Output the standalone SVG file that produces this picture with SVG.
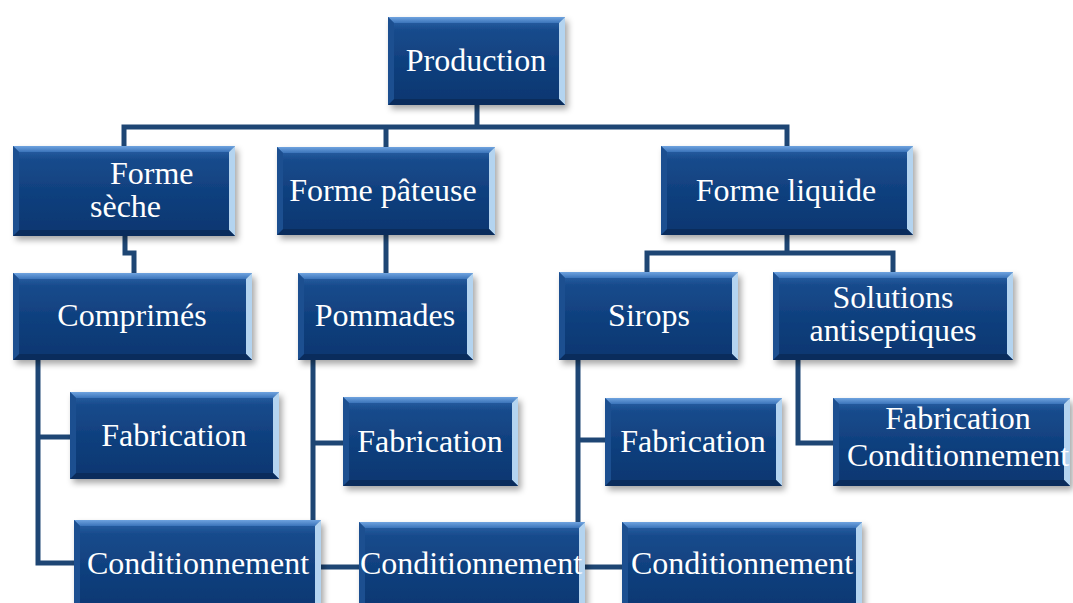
<svg xmlns="http://www.w3.org/2000/svg" width="1073" height="603" viewBox="0 0 1073 603">
  <defs>
    <linearGradient id="body" x1="0" y1="0" x2="0" y2="1">
      <stop offset="0" stop-color="#2d66ab"/>
      <stop offset="0.15" stop-color="#184b8c"/>
      <stop offset="0.55" stop-color="#0f3f7d"/>
      <stop offset="1" stop-color="#0b3670"/>
    </linearGradient>
    <linearGradient id="topBevel" x1="0" y1="0" x2="0" y2="1">
      <stop offset="0" stop-color="#6fa3df"/>
      <stop offset="1" stop-color="#3b74ba"/>
    </linearGradient>
    <filter id="shadow" x="-10%" y="-10%" width="125%" height="130%">
      <feDropShadow dx="3" dy="4" stdDeviation="3" flood-color="#000" flood-opacity="0.35"/>
    </filter>
  </defs>
  <style>
    .body { fill: url(#body); filter: url(#shadow); }
    .bt { fill: url(#topBevel); }
    .br { fill: #b4d4f0; }
    .bb { fill: #0a2c5c; }
    .bl { fill: #1c4f90; }
    .label { font-family: "Liberation Serif", "Times New Roman", serif; font-size: 32px; fill: #ffffff; text-anchor: middle; }
    .left { text-anchor: start; }
    .wire { fill: none; stroke: #1e4674; stroke-width: 5; stroke-linejoin: miter; stroke-linecap: butt; }
  </style>

  <rect width="1073" height="603" fill="#ffffff"/>

  <!-- connectors -->
  <g id="connectors">
    <path class="wire" d="M477,105 V127"/>
    <path class="wire" d="M124,146 V127 H787 V146"/>
    <path class="wire" d="M386,127 V147"/>
    <path class="wire" d="M125,236 V253 H134 V273"/>
    <path class="wire" d="M386,235 V273"/>
    <path class="wire" d="M787,235 V253"/>
    <path class="wire" d="M647,272 V253 H893 V272"/>
    <path class="wire" d="M38,360 V563 H74"/>
    <path class="wire" d="M38,437 H70"/>
    <path class="wire" d="M313,360 V522"/>
    <path class="wire" d="M313,443 H343"/>
    <path class="wire" d="M321,567 H359"/>
    <path class="wire" d="M578,360 V522"/>
    <path class="wire" d="M578,440 H605"/>
    <path class="wire" d="M585,567 H622"/>
    <path class="wire" d="M798,360 V443 H833"/>
  </g>

  <!-- Production -->
  <g id="production">
    <rect class="body" x="388" y="17" width="177" height="88"/>
    <path class="bt" d="M388,17 h177 l-6,6 h-165 z"/>
    <path class="br" d="M565,17 v88 l-6,-6 v-76 z"/>
    <path class="bb" d="M388,105 h177 l-6,-6 h-165 z"/>
    <path class="bl" d="M388,17 v88 l6,-6 v-76 z"/>
    <text class="label" x="476" y="71">Production</text>
  </g>

  <!-- Forme sèche -->
  <g id="forme-seche">
    <rect class="body" x="13" y="146" width="222" height="90"/>
    <path class="bt" d="M13,146 h222 l-6,6 h-210 z"/>
    <path class="br" d="M235,146 v90 l-6,-6 v-78 z"/>
    <path class="bb" d="M13,236 h222 l-6,-6 h-210 z"/>
    <path class="bl" d="M13,146 v90 l6,-6 v-78 z"/>
    <text class="label left" x="110" y="184">Forme</text>
    <text class="label left" x="90" y="217">sèche</text>
  </g>

  <!-- Forme pâteuse -->
  <g id="forme-pateuse">
    <rect class="body" x="277" y="147" width="218" height="88"/>
    <path class="bt" d="M277,147 h218 l-6,6 h-206 z"/>
    <path class="br" d="M495,147 v88 l-6,-6 v-76 z"/>
    <path class="bb" d="M277,235 h218 l-6,-6 h-206 z"/>
    <path class="bl" d="M277,147 v88 l6,-6 v-76 z"/>
    <text class="label" x="383" y="201">Forme pâteuse</text>
  </g>

  <!-- Forme liquide -->
  <g id="forme-liquide">
    <rect class="body" x="661" y="146" width="252" height="89"/>
    <path class="bt" d="M661,146 h252 l-6,6 h-240 z"/>
    <path class="br" d="M913,146 v89 l-6,-6 v-77 z"/>
    <path class="bb" d="M661,235 h252 l-6,-6 h-240 z"/>
    <path class="bl" d="M661,146 v89 l6,-6 v-77 z"/>
    <text class="label" x="786" y="201">Forme liquide</text>
  </g>

  <!-- Comprimés -->
  <g id="comprimes">
    <rect class="body" x="13" y="273" width="239" height="87"/>
    <path class="bt" d="M13,273 h239 l-6,6 h-227 z"/>
    <path class="br" d="M252,273 v87 l-6,-6 v-75 z"/>
    <path class="bb" d="M13,360 h239 l-6,-6 h-227 z"/>
    <path class="bl" d="M13,273 v87 l6,-6 v-75 z"/>
    <text class="label" x="132" y="326">Comprimés</text>
  </g>

  <!-- Pommades -->
  <g id="pommades">
    <rect class="body" x="298" y="273" width="175" height="87"/>
    <path class="bt" d="M298,273 h175 l-6,6 h-163 z"/>
    <path class="br" d="M473,273 v87 l-6,-6 v-75 z"/>
    <path class="bb" d="M298,360 h175 l-6,-6 h-163 z"/>
    <path class="bl" d="M298,273 v87 l6,-6 v-75 z"/>
    <text class="label" x="385" y="326">Pommades</text>
  </g>

  <!-- Sirops -->
  <g id="sirops">
    <rect class="body" x="559" y="272" width="179" height="88"/>
    <path class="bt" d="M559,272 h179 l-6,6 h-167 z"/>
    <path class="br" d="M738,272 v88 l-6,-6 v-76 z"/>
    <path class="bb" d="M559,360 h179 l-6,-6 h-167 z"/>
    <path class="bl" d="M559,272 v88 l6,-6 v-76 z"/>
    <text class="label" x="649" y="326">Sirops</text>
  </g>

  <!-- Solutions antiseptiques -->
  <g id="solutions">
    <rect class="body" x="773" y="272" width="240" height="88"/>
    <path class="bt" d="M773,272 h240 l-6,6 h-228 z"/>
    <path class="br" d="M1013,272 v88 l-6,-6 v-76 z"/>
    <path class="bb" d="M773,360 h240 l-6,-6 h-228 z"/>
    <path class="bl" d="M773,272 v88 l6,-6 v-76 z"/>
    <text class="label" x="893" y="308">Solutions</text>
    <text class="label" x="893" y="341">antiseptiques</text>
  </g>

  <!-- Fabrication (Comprimés) -->
  <g id="fabrication-comprimes">
    <rect class="body" x="70" y="392" width="209" height="87"/>
    <path class="bt" d="M70,392 h209 l-6,6 h-197 z"/>
    <path class="br" d="M279,392 v87 l-6,-6 v-75 z"/>
    <path class="bb" d="M70,479 h209 l-6,-6 h-197 z"/>
    <path class="bl" d="M70,392 v87 l6,-6 v-75 z"/>
    <text class="label" x="174" y="446">Fabrication</text>
  </g>

  <!-- Fabrication (Pommades) -->
  <g id="fabrication-pommades">
    <rect class="body" x="343" y="397" width="175" height="89"/>
    <path class="bt" d="M343,397 h175 l-6,6 h-163 z"/>
    <path class="br" d="M518,397 v89 l-6,-6 v-77 z"/>
    <path class="bb" d="M343,486 h175 l-6,-6 h-163 z"/>
    <path class="bl" d="M343,397 v89 l6,-6 v-77 z"/>
    <text class="label" x="430" y="452">Fabrication</text>
  </g>

  <!-- Fabrication (Sirops) -->
  <g id="fabrication-sirops">
    <rect class="body" x="605" y="398" width="177" height="88"/>
    <path class="bt" d="M605,398 h177 l-6,6 h-165 z"/>
    <path class="br" d="M782,398 v88 l-6,-6 v-76 z"/>
    <path class="bb" d="M605,486 h177 l-6,-6 h-165 z"/>
    <path class="bl" d="M605,398 v88 l6,-6 v-76 z"/>
    <text class="label" x="693" y="452">Fabrication</text>
  </g>

  <!-- Fabrication / Conditionnement (Solutions) -->
  <g id="fabrication-conditionnement">
    <rect class="body" x="833" y="398" width="237" height="88"/>
    <path class="bt" d="M833,398 h237 l-6,6 h-225 z"/>
    <path class="br" d="M1070,398 v88 l-6,-6 v-76 z"/>
    <path class="bb" d="M833,486 h237 l-6,-6 h-225 z"/>
    <path class="bl" d="M833,398 v88 l6,-6 v-76 z"/>
    <text class="label" x="958" y="429">Fabrication</text>
    <text class="label" x="958" y="466">Conditionnement</text>
  </g>

  <!-- Conditionnement (Comprimés) -->
  <g id="conditionnement-comprimes">
    <rect class="body" x="74" y="520" width="247" height="95"/>
    <path class="bt" d="M74,520 h247 l-6,6 h-235 z"/>
    <path class="br" d="M321,520 v95 l-6,-6 v-83 z"/>
    <path class="bl" d="M74,520 v95 l6,-6 v-83 z"/>
    <text class="label" x="198" y="574">Conditionnement</text>
  </g>

  <!-- Conditionnement (Pommades) -->
  <g id="conditionnement-pommades">
    <rect class="body" x="359" y="522" width="226" height="93"/>
    <path class="bt" d="M359,522 h226 l-6,6 h-214 z"/>
    <path class="br" d="M585,522 v93 l-6,-6 v-81 z"/>
    <path class="bl" d="M359,522 v93 l6,-6 v-81 z"/>
    <text class="label" x="471" y="574">Conditionnement</text>
  </g>

  <!-- Conditionnement (Sirops) -->
  <g id="conditionnement-sirops">
    <rect class="body" x="622" y="522" width="240" height="93"/>
    <path class="bt" d="M622,522 h240 l-6,6 h-228 z"/>
    <path class="br" d="M862,522 v93 l-6,-6 v-81 z"/>
    <path class="bl" d="M622,522 v93 l6,-6 v-81 z"/>
    <text class="label" x="742" y="574">Conditionnement</text>
  </g>
</svg>
